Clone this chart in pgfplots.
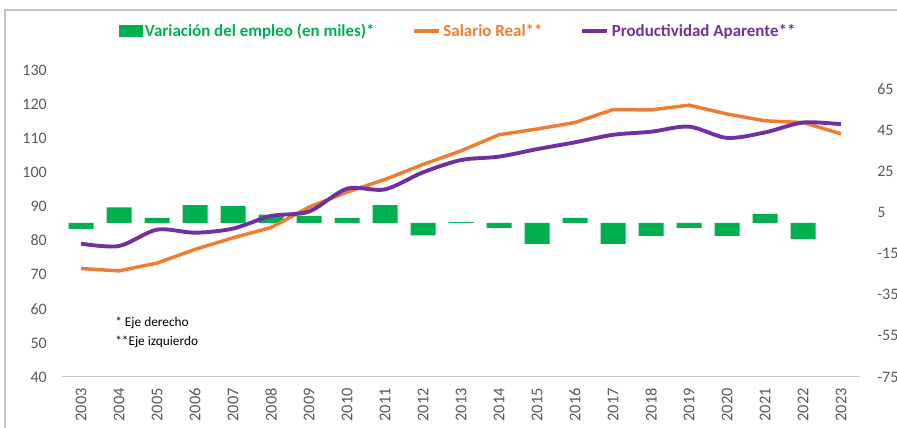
\documentclass[border=0pt]{standalone}
\usepackage{pgfplots}
\pgfplotsset{compat=1.18}
\usepackage{fontspec}
\setmainfont{Carlito}
\definecolor{vgreen}{HTML}{00B050}
\definecolor{sorange}{HTML}{ED7D31}
\definecolor{ppurple}{HTML}{7030A0}
\definecolor{tickgray}{HTML}{595959}
\definecolor{framegray}{HTML}{C4C4C4}
\begin{document}
\begin{tikzpicture}
\useasboundingbox (0,0) rectangle (672.75pt,321pt);
\draw[framegray, line width=1pt] (3.75pt,-5pt) -- (3.75pt,313.5pt) -- (680pt,313.5pt);
\begin{axis}[
  at={(46.5pt,38.25pt)}, anchor=south west, scale only axis,
  width=598.5pt, height=230.25pt,
  xmin=-0.5, xmax=20.5, ymin=-75, ymax=74.4,
  axis y line*=right, axis x line=none,
  y axis line style={draw=none},
  ytick={-75,-55,...,65},
  major tick length=0pt,
  /pgf/number format/assume math mode=true,
  yticklabel style={font=\fontsize{12}{14}\selectfont, text=tickgray, anchor=west, inner sep=0pt, xshift=12.75pt},
]
\addplot[ybar, bar width=18.75pt, fill=vgreen, draw=none] coordinates {
(0,-2.9) (1,7.6) (2,2.4) (3,8.7) (4,8.2) (5,4.0) (6,3.4) (7,2.3) (8,8.7) (9,-6.1)
(10,0.4) (11,-2.4) (12,-10.2) (13,2.4) (14,-10.2) (15,-6.3) (16,-2.4) (17,-6.3) (18,4.4) (19,-7.9)
};
\end{axis}
\begin{axis}[
  at={(46.5pt,38.25pt)}, anchor=south west, scale only axis,
  width=598.5pt, height=230.25pt,
  xmin=-0.5, xmax=20.5, ymin=40, ymax=130,
  axis y line*=left, axis x line*=bottom,
  y axis line style={draw=none},
  x axis line style={draw=framegray, line width=0.75pt},
  ytick={40,50,...,130},
  xtick={0,...,20},
  xticklabels={2003,2004,2005,2006,2007,2008,2009,2010,2011,2012,2013,2014,2015,2016,2017,2018,2019,2020,2021,2022,2023},
  major tick length=0pt,
  /pgf/number format/assume math mode=true,
  yticklabel style={font=\fontsize{12}{14}\selectfont, text=tickgray, anchor=east, inner sep=0pt, xshift=-11.25pt},
  xticklabel style={font=\fontsize{12.3}{14}\selectfont, text=tickgray, yshift=-8.25pt, rotate=90, anchor=east, inner sep=0pt},
  legend style={at={(0.497,1.127)}, anchor=center, draw=none, fill=none,
    font=\fontsize{12.7}{14}\selectfont\bfseries,
    /tikz/every even column/.append style={column sep=26pt}},
  legend columns=3,
  legend cell align=left,
]
\addlegendimage{legend image code/.code={\fill[vgreen] (4pt,-4pt) rectangle (21pt,4pt);}}
\addlegendentry{\textcolor{vgreen}{Variación del empleo (en miles)*}}
\addplot[sorange, line width=2.6pt, legend image code/.code={\draw[sorange,line width=2.6pt] (4pt,0pt) -- (23pt,0pt);}] coordinates {
(0,71.8) (1,71.1) (2,73.4) (3,77.4) (4,80.8) (5,83.8) (6,89.8) (7,94.2) (8,97.9) (9,102.3)
(10,106.3) (11,111.0) (12,112.7) (13,114.6) (14,118.4) (15,118.3) (16,119.7) (17,117.1) (18,115.1) (19,114.6) (20,111.3)
};
\addlegendentry{\textcolor{sorange}{Salario Real**}}
\addplot[ppurple, line width=2.9pt, smooth, legend image code/.code={\draw[ppurple,line width=2.9pt] (4pt,0pt) -- (23pt,0pt);}] coordinates {
(0,79.1) (1,78.4) (2,83.2) (3,82.3) (4,83.5) (5,87.2) (6,88.5) (7,95.2) (8,95.0) (9,100.0)
(10,103.6) (11,104.6) (12,106.8) (13,108.8) (14,111.0) (15,111.9) (16,113.4) (17,110.1) (18,111.7) (19,114.6) (20,114.1)
};
\addlegendentry{\textcolor{ppurple}{Productividad Aparente**}}
\node[anchor=west, font=\fontsize{10}{12}\selectfont, inner sep=0pt] at (rel axis cs:0.0664,0.175) {* Eje derecho};
\node[anchor=west, font=\fontsize{10}{12}\selectfont, inner sep=0pt] at (rel axis cs:0.0664,0.113) {**Eje izquierdo};
\end{axis}
\end{tikzpicture}
\end{document}
